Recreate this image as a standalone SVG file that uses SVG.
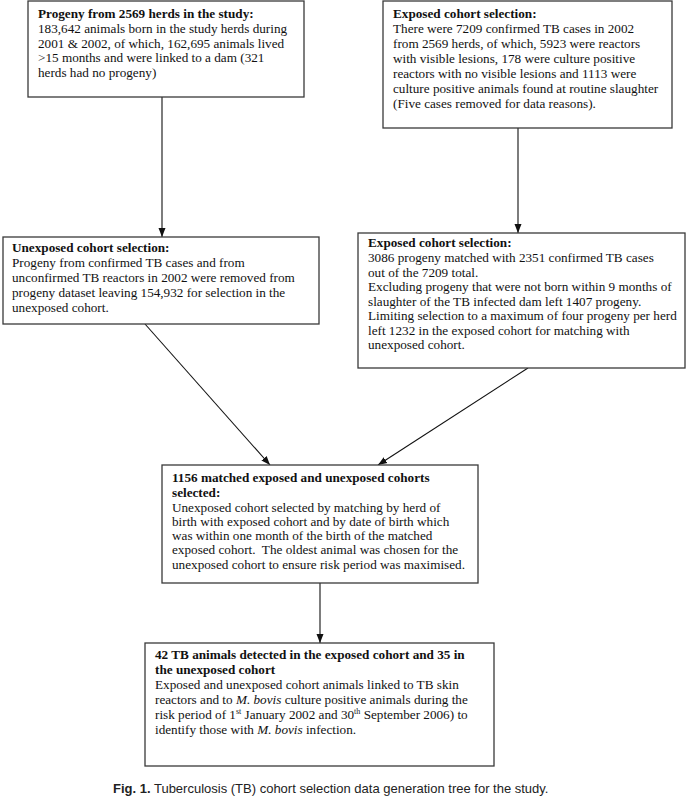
<svg xmlns="http://www.w3.org/2000/svg" width="690" height="800" viewBox="0 0 690 800">
<style>
.box{fill:#fff;stroke:#3a3a3a;stroke-width:1.3}
.t{font-family:"Liberation Serif","Times New Roman",serif;font-size:13.2px;fill:#111}
.b{font-weight:bold}
.conn{stroke:#111;stroke-width:1.1;fill:none}
.cap{font-family:"Liberation Sans",Arial,sans-serif;font-size:13px;fill:#222}
</style>
<defs>
<marker id="arr" markerUnits="userSpaceOnUse" markerWidth="10" markerHeight="10" viewBox="0 0 10 10" refX="9" refY="5" orient="auto">
<path d="M0,1.5 L9,5 L0,8.5 Z" fill="#111"/>
</marker>
</defs>
<rect width="690" height="800" fill="#fff"/>
<g id="connectors">
<line class="conn" x1="162" y1="97" x2="162" y2="237" marker-end="url(#arr)"/>
<line class="conn" x1="518" y1="128" x2="518" y2="233" marker-end="url(#arr)"/>
<line class="conn" x1="145" y1="324" x2="270" y2="465" marker-end="url(#arr)"/>
<line class="conn" x1="528" y1="368" x2="378" y2="465" marker-end="url(#arr)"/>
<line class="conn" x1="320" y1="583" x2="320" y2="643" marker-end="url(#arr)"/>
</g>
<g id="progeny">
<rect class="box" x="28" y="1" width="276" height="96"/>
<text class="t b" x="38" y="18">Progeny from 2569 herds in the study:</text>
<text class="t" x="38" y="33">183,642 animals born in the study herds during</text>
<text class="t" x="38" y="47.5">2001 &amp; 2002, of which, 162,695 animals lived</text>
<text class="t" x="38" y="62">&gt;15 months and were linked to a dam (321</text>
<text class="t" x="38" y="76.5">herds had no progeny)</text>
</g>
<g id="exposed1">
<rect class="box" x="383" y="1" width="289" height="127"/>
<text class="t b" x="393" y="18">Exposed cohort selection:</text>
<text class="t" x="393" y="33">There were 7209 confirmed TB cases in 2002</text>
<text class="t" x="393" y="48">from 2569 herds, of which, 5923 were reactors</text>
<text class="t" x="393" y="63">with visible lesions, 178 were culture positive</text>
<text class="t" x="393" y="78">reactors with no visible lesions and 1113 were</text>
<text class="t" x="393" y="93">culture positive animals found at routine slaughter</text>
<text class="t" x="393" y="108">(Five cases removed for data reasons).</text>
</g>
<g id="unexposed">
<rect class="box" x="3" y="237" width="316" height="87"/>
<text class="t b" x="12" y="252">Unexposed cohort selection:</text>
<text class="t" x="12" y="267">Progeny from confirmed TB cases and from</text>
<text class="t" x="12" y="282">unconfirmed TB reactors in 2002 were removed from</text>
<text class="t" x="12" y="297">progeny dataset leaving 154,932 for selection in the</text>
<text class="t" x="12" y="311.5">unexposed cohort.</text>
</g>
<g id="exposed2">
<rect class="box" x="358" y="233" width="327" height="135"/>
<text class="t b" x="368" y="247">Exposed cohort selection:</text>
<text class="t" x="368" y="262">3086 progeny matched with 2351 confirmed TB cases</text>
<text class="t" x="368" y="276.5">out of the 7209 total.</text>
<text class="t" x="368" y="291">Excluding progeny that were not born within 9 months of</text>
<text class="t" x="368" y="305.5">slaughter of the TB infected dam left 1407 progeny.</text>
<text class="t" x="368" y="320">Limiting selection to a maximum of four progeny per herd</text>
<text class="t" x="368" y="334.5">left 1232 in the exposed cohort for matching with</text>
<text class="t" x="368" y="349">unexposed cohort.</text>
</g>
<g id="matched">
<rect class="box" x="162" y="465" width="316" height="118"/>
<text class="t b" x="172" y="482">1156 matched exposed and unexposed cohorts</text>
<text class="t b" x="172" y="496.5">selected:</text>
<text class="t" x="172" y="511.5">Unexposed cohort selected by matching by herd of</text>
<text class="t" x="172" y="525.5">birth with exposed cohort and by date of birth which</text>
<text class="t" x="172" y="540">was within one month of the birth of the matched</text>
<text class="t" x="172" y="554">exposed cohort.&#160; The oldest animal was chosen for the</text>
<text class="t" x="172" y="568.5">unexposed cohort to ensure risk period was maximised.</text>
</g>
<g id="detected">
<rect class="box" x="145" y="643" width="349" height="123"/>
<text class="t b" x="155" y="659">42 TB animals detected in the exposed cohort and 35 in</text>
<text class="t b" x="155" y="674">the unexposed cohort</text>
<text class="t" x="155" y="689">Exposed and unexposed cohort animals linked to TB skin</text>
<text class="t" x="155" y="704">reactors and to <tspan font-style="italic">M. bovis</tspan> culture positive animals during the</text>
<text class="t" x="155" y="719">risk period of 1<tspan font-size="8" dy="-5">st</tspan><tspan dy="5"> January 2002 and 30</tspan><tspan font-size="8" dy="-5">th</tspan><tspan dy="5"> September 2006) to</tspan></text>
<text class="t" x="155" y="733.5">identify those with <tspan font-style="italic">M. bovis</tspan> infection.</text>
</g>
<text class="cap" x="113" y="793"><tspan font-weight="bold">Fig. 1.</tspan> Tuberculosis (TB) cohort selection data generation tree for the study.</text>
</svg>
